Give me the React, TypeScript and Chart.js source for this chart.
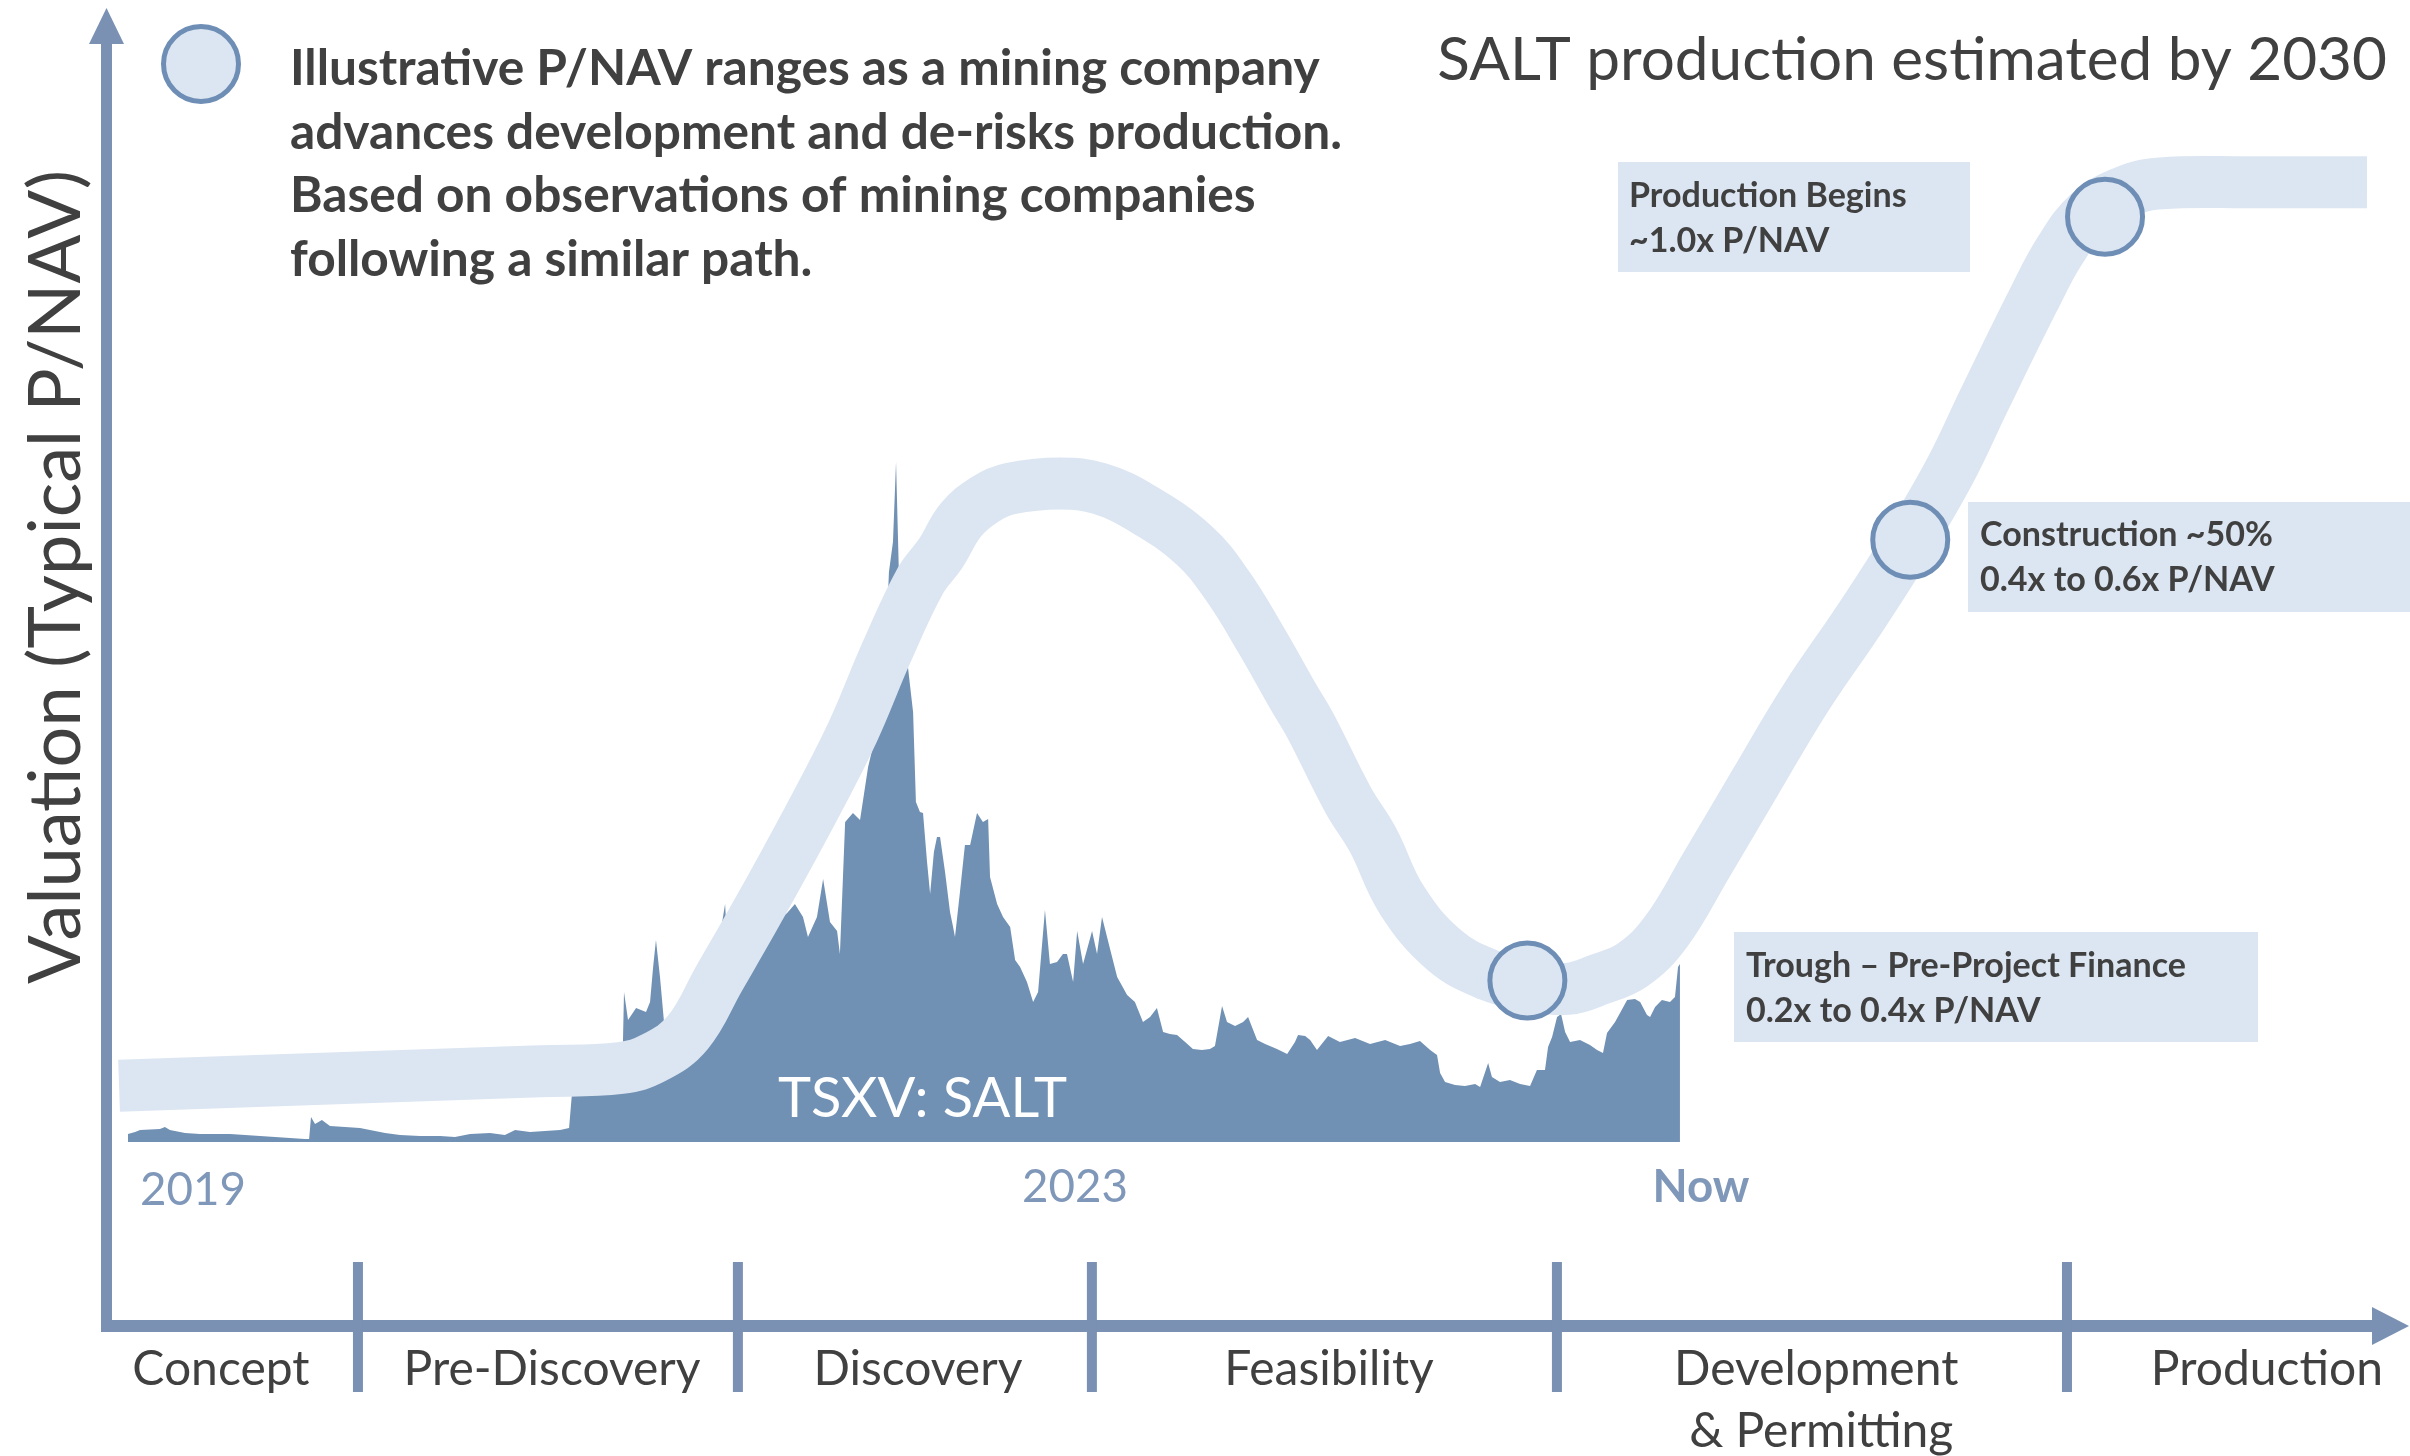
import React, { useEffect, useRef } from "react";
import { Chart, registerables } from "chart.js";

Chart.register(...registerables);

// ---------- DATA ----------
// TSXV: SALT share price (CAD)
const priceYears = [
  2019.0, 2019.03, 2019.051, 2019.135, 2019.156, 2019.177, 2019.241, 2019.304, 2019.431, 2019.558,
  2019.684, 2019.748, 2019.765, 2019.773, 2019.79, 2019.819, 2019.853, 2019.917, 2019.98, 2020.022,
  2020.086, 2020.149, 2020.233, 2020.318, 2020.381, 2020.445, 2020.529, 2020.592, 2020.635, 2020.698,
  2020.761, 2020.825, 2020.863, 2020.875, 2020.93, 2020.994, 2021.057, 2021.087, 2021.095, 2021.112,
  2021.146, 2021.188, 2021.205, 2021.218, 2021.23, 2021.247, 2021.264, 2021.298, 2021.353, 2021.416,
  2021.479, 2021.522, 2021.534, 2021.585, 2021.648, 2021.712, 2021.784, 2021.817, 2021.851, 2021.872,
  2021.91, 2021.936, 2021.965, 2021.995, 2022.007, 2022.029, 2022.062, 2022.092, 2022.126, 2022.151,
  2022.176, 2022.202, 2022.214, 2022.231, 2022.244, 2022.257, 2022.274, 2022.299, 2022.316, 2022.328,
  2022.345, 2022.358, 2022.375, 2022.388, 2022.404, 2022.417, 2022.43, 2022.451, 2022.472, 2022.485,
  2022.493, 2022.514, 2022.535, 2022.557, 2022.586, 2022.611, 2022.633, 2022.641, 2022.671, 2022.696,
  2022.726, 2022.747, 2022.768, 2022.797, 2022.823, 2022.844, 2022.873, 2022.894, 2022.924, 2022.949,
  2022.966, 2022.992, 2023.009, 2023.034, 2023.072, 2023.093, 2023.114, 2023.148, 2023.178, 2023.22,
  2023.253, 2023.287, 2023.317, 2023.346, 2023.372, 2023.401, 2023.431, 2023.465, 2023.498, 2023.536,
  2023.57, 2023.591, 2023.621, 2023.642, 2023.676, 2023.71, 2023.731, 2023.769, 2023.803, 2023.853,
  2023.896, 2023.929, 2023.942, 2023.972, 2023.993, 2024.022, 2024.069, 2024.119, 2024.183, 2024.246,
  2024.31, 2024.373, 2024.415, 2024.457, 2024.5, 2024.529, 2024.542, 2024.563, 2024.605, 2024.647,
  2024.69, 2024.711, 2024.745, 2024.761, 2024.795, 2024.837, 2024.88, 2024.922, 2024.951, 2024.985,
  2024.998, 2025.015, 2025.036, 2025.053, 2025.07, 2025.091, 2025.133, 2025.175, 2025.205, 2025.23,
  2025.247, 2025.281, 2025.302, 2025.332, 2025.365, 2025.387, 2025.416, 2025.429, 2025.45, 2025.479,
  2025.513, 2025.534, 2025.547, 2025.555,
];
const priceValues = [
  0.038, 0.048, 0.058, 0.062, 0.072, 0.058, 0.043, 0.038, 0.038, 0.029,
  0.019, 0.014, 0.014, 0.12, 0.086, 0.106, 0.077, 0.072, 0.067, 0.058,
  0.043, 0.034, 0.029, 0.029, 0.024, 0.038, 0.043, 0.034, 0.058, 0.048,
  0.053, 0.058, 0.067, 0.23, 0.24, 0.25, 0.264, 0.288, 0.72, 0.585,
  0.643, 0.624, 0.672, 0.84, 0.969, 0.792, 0.576, 0.6, 0.672, 0.744,
  0.84, 1.142, 0.888, 0.936, 0.984, 1.032, 1.099, 1.142, 1.08, 0.984,
  1.08, 1.262, 1.056, 1.012, 0.902, 1.535, 1.579, 1.545, 1.8, 1.919,
  2.015, 2.399, 2.735, 2.879, 3.263, 2.687, 2.495, 2.231, 2.063, 1.631,
  1.583, 1.579, 1.344, 1.19, 1.392, 1.464, 1.464, 1.296, 1.104, 1.032,
  0.984, 1.2, 1.425, 1.425, 1.579, 1.535, 1.55, 1.272, 1.142, 1.08,
  1.032, 0.873, 0.84, 0.768, 0.672, 0.72, 1.113, 0.854, 0.864, 0.902,
  0.902, 0.768, 1.012, 0.854, 1.012, 0.902, 1.08, 0.926, 0.792, 0.705,
  0.672, 0.576, 0.6, 0.643, 0.528, 0.518, 0.513, 0.48, 0.446, 0.441,
  0.446, 0.461, 0.653, 0.576, 0.557, 0.576, 0.6, 0.489, 0.47, 0.446,
  0.422, 0.48, 0.513, 0.509, 0.489, 0.441, 0.509, 0.48, 0.499, 0.47,
  0.489, 0.461, 0.47, 0.485, 0.441, 0.417, 0.331, 0.288, 0.274, 0.269,
  0.278, 0.264, 0.379, 0.312, 0.288, 0.298, 0.278, 0.269, 0.345, 0.345,
  0.456, 0.504, 0.6, 0.614, 0.528, 0.48, 0.489, 0.465, 0.441, 0.427,
  0.523, 0.576, 0.619, 0.681, 0.686, 0.672, 0.609, 0.6, 0.648, 0.681,
  0.672, 0.696, 0.84, 0.854,
];

// Illustrative valuation path (stage progress 0-100, valuation index 0-100)
const stageX = [
  -0.4, 18.4, 22.0, 23.5, 25.0, 26.4, 27.9, 29.4, 30.9, 32.4,
  33.9, 35.4, 36.3, 37.2, 38.3, 39.4, 41.6, 43.4, 45.3, 47.6, 49.1,
  50.6, 52.0, 52.8, 54.5, 55.6, 56.9, 58.8, 60.8, 62.5, 64.3,
  65.7, 67.2, 68.7, 70.5, 72.7, 74.9, 77.4, 79.6, 81.4, 82.9,
  85.1, 86.3, 87.6, 89.2, 90.8, 94.8, 100,
];
const valuationIdx = [
  5.4, 6.8, 7.1, 8.1, 10.5, 15.7, 21.3, 27.1, 33.1, 39.5,
  47.1, 53.9, 56.5, 59.7, 61.7, 62.7, 63.2, 62.7, 60.8, 57.3, 53.4,
  48.2, 42.9, 40.0, 32.8, 29.0, 23.2, 18.4, 16.0, 15.1, 14.7,
  15.6, 17.0, 20.2, 26.6, 34.6, 42.5, 50.4, 57.8, 64.5, 71.2,
  80.8, 85.6, 89.2, 91.2, 92.0, 92.1, 92.1,
];

// Milestone markers on the path
const milestoneStage = [62.5, 79.6, 88.3];
const milestoneLevel = [15.5, 57.8, 88.8];
const milestoneLines = [
  ["Trough \u2013 Pre-Project Finance", "0.2x to 0.4x P/NAV"],
  ["Construction ~50%", "0.4x to 0.6x P/NAV"],
  ["Production Begins", "~1.0x P/NAV"],
];

// Phases along the x axis
const phaseNames = [["Concept"], ["Pre-Discovery"], ["Discovery"], ["Feasibility"], ["Development", "& Permitting"], ["Production"]];
const phaseCenters = [4.15, 18.94, 35.28, 53.64, 75.4, 95.53];
const phaseBounds = [10.27, 27.24, 43.05, 63.82, 86.6];

// Year tick labels
const yearTicks = [2019, 2023];

const titleText = "SALT production estimated by 2030";
const yTitle = "Valuation (Typical P/NAV)";
const legendLines = [
  "Illustrative P/NAV ranges as a mining company",
  "advances development and de-risks production.",
  "Based on observations of mining companies",
  "following a similar path.",
];
const tickerLabel = "TSXV: SALT";

// ---------- STYLE ----------
const FONT = "Lato, 'Open Sans', 'DejaVu Sans', sans-serif";
const TEXT = "#404040";
const AXIS = "#7a91b3";
const AREA = "#7091b4";
const BAND = "#dce6f2";
const RING = "#6e8eb6";
const YEARC = "#7f97b9";

function fit(ctx: CanvasRenderingContext2D, text: string, weight: string, width: number) {
  ctx.font = `${weight} 100px ${FONT}`;
  return (100 * width) / ctx.measureText(text).width;
}
function txt(
  ctx: CanvasRenderingContext2D, s: string, x: number, y: number, size: number,
  weight: string, color: string, align: CanvasTextAlign = "left"
) {
  ctx.font = `${weight} ${size}px ${FONT}`;
  ctx.fillStyle = color;
  ctx.textAlign = align;
  ctx.textBaseline = "alphabetic";
  ctx.fillText(s, x, y);
}

const overlay = {
  id: "overlay",
  afterDatasetsDraw(chart: any) {
    const ctx: CanvasRenderingContext2D = chart.ctx;
    const xs = chart.scales.xs;
    const xp = chart.scales.xp;
    ctx.save();

    // axes with arrows
    ctx.fillStyle = AXIS;
    ctx.fillRect(101, 40, 11, 1332 - 40);
    ctx.beginPath();
    ctx.moveTo(106.5, 8);
    ctx.lineTo(124, 44);
    ctx.lineTo(89, 44);
    ctx.closePath();
    ctx.fill();
    ctx.fillRect(101, 1320, 2374 - 101, 12);
    ctx.beginPath();
    ctx.moveTo(2409, 1326);
    ctx.lineTo(2372, 1307);
    ctx.lineTo(2372, 1345);
    ctx.closePath();
    ctx.fill();
    phaseBounds.forEach((b) => {
      const px = xs.getPixelForValue(b);
      ctx.fillRect(px - 5, 1262, 10, 130);
    });

    // phase labels
    const phSize = fit(ctx, "Pre-Discovery", "normal", 297);
    phaseNames.forEach((lines, i) => {
      const cx = xs.getPixelForValue(phaseCenters[i]);
      lines.forEach((l, j) => txt(ctx, l, cx + j * 5, 1385 + j * 62, phSize, "normal", TEXT, "center"));
    });

    // year labels
    const yrSize = fit(ctx, "2019", "normal", 106);
    txt(ctx, String(yearTicks[0]), xp.getPixelForValue(yearTicks[0]) + 12, 1205, yrSize, "normal", YEARC, "left");
    txt(ctx, String(yearTicks[1]), xp.getPixelForValue(yearTicks[1]), 1202, yrSize, "normal", YEARC, "center");
    const lastX = xp.getPixelForValue(priceYears[priceYears.length - 1]);
    txt(ctx, "Now", lastX + 21, 1202, yrSize, "bold", YEARC, "center");

    // ticker label
    const tkSize = fit(ctx, tickerLabel, "normal", 289);
    txt(ctx, tickerLabel, 778, 1117, tkSize, "normal", "#ffffff", "left");

    // y-axis title
    const ytSize = fit(ctx, yTitle, "normal", 814);
    ctx.save();
    ctx.translate(80, 577);
    ctx.rotate(-Math.PI / 2);
    txt(ctx, yTitle, 0, 0, ytSize, "normal", TEXT, "center");
    ctx.restore();

    // title
    const tSize = fit(ctx, titleText, "normal", 950);
    txt(ctx, titleText, 2387, 80, tSize, "normal", TEXT, "right");

    // legend marker + text
    ctx.beginPath();
    ctx.arc(201, 64, 37.5, 0, Math.PI * 2);
    ctx.fillStyle = BAND;
    ctx.fill();
    ctx.lineWidth = 5;
    ctx.strokeStyle = RING;
    ctx.stroke();
    const lgSize = fit(ctx, legendLines[0], "bold", 1030);
    legendLines.forEach((l, i) => txt(ctx, l, 290, 85 + i * 63.7, lgSize, "bold", TEXT, "left"));

    // annotation boxes
    const bxSize = fit(ctx, milestoneLines[0][0], "bold", 440);
    const boxes = [
      { x: 1734, y: 932, w: 524, h: 110, tx: 1746, b1: 977, b2: 1022 },
      { x: 1968, y: 502, w: 442, h: 110, tx: 1980, b1: 546, b2: 591 },
      { x: 1618, y: 162, w: 352, h: 110, tx: 1629, b1: 207, b2: 252 },
    ];
    boxes.forEach((b, i) => {
      ctx.fillStyle = BAND;
      ctx.fillRect(b.x, b.y, b.w, b.h);
      txt(ctx, milestoneLines[i][0], b.tx, b.b1, bxSize, "bold", TEXT, "left");
      txt(ctx, milestoneLines[i][1], b.tx, b.b2, bxSize, "bold", TEXT, "left");
    });
    ctx.restore();
  },
};

export default function App() {
  const ref = useRef<HTMLCanvasElement>(null);
  useEffect(() => {
    document.body.style.margin = "0";
    const chart = new Chart(ref.current as HTMLCanvasElement, {
      type: "line",
      data: {
        datasets: [
          {
            label: "Milestones",
            type: "scatter" as any,
            data: milestoneStage.map((x, i) => ({ x, y: milestoneLevel[i] })),
            xAxisID: "xs",
            yAxisID: "ys",
            pointRadius: 37.5,
            pointHoverRadius: 37.5,
            pointBorderWidth: 5,
            pointBackgroundColor: BAND,
            pointBorderColor: RING,
            showLine: false,
            clip: false as any,
            order: 1,
          },
          {
            label: "Valuation path",
            data: stageX.map((x, i) => ({ x, y: valuationIdx[i] })),
            xAxisID: "xs",
            yAxisID: "ys",
            borderColor: BAND,
            borderWidth: 52,
            borderCapStyle: "butt",
            borderJoinStyle: "round",
            tension: 0.4,
            pointRadius: 0,
            fill: false,
            clip: false as any,
            order: 2,
          },
          {
            label: "TSXV: SALT",
            data: priceYears.map((x, i) => ({ x, y: priceValues[i] })),
            xAxisID: "xp",
            yAxisID: "yp",
            borderWidth: 0,
            borderColor: AREA,
            backgroundColor: AREA,
            fill: "origin",
            pointRadius: 0,
            tension: 0,
            order: 3,
          },
        ],
      },
      options: {
        responsive: false,
        animation: false,
        devicePixelRatio: 1,
        events: [],
        layout: { padding: { left: 128, right: 43, top: 100, bottom: 314 } },
        plugins: { legend: { display: false }, tooltip: { enabled: false } },
        scales: {
          xs: { type: "linear", min: 0, max: 100, display: false },
          ys: { type: "linear", min: 0, max: 100, display: false },
          xp: { type: "linear", min: 2019, max: 2028.457, display: false },
          yp: { type: "linear", min: 0, max: 5, display: false },
        },
      } as any,
      plugins: [overlay],
    });
    return () => chart.destroy();
  }, []);
  return (
    <div style={{ position: "absolute", left: 0, top: 0, width: 2410, height: 1456, background: "#fff" }}>
      <canvas ref={ref} width={2410} height={1456} style={{ display: "block" }} />
    </div>
  );
}
